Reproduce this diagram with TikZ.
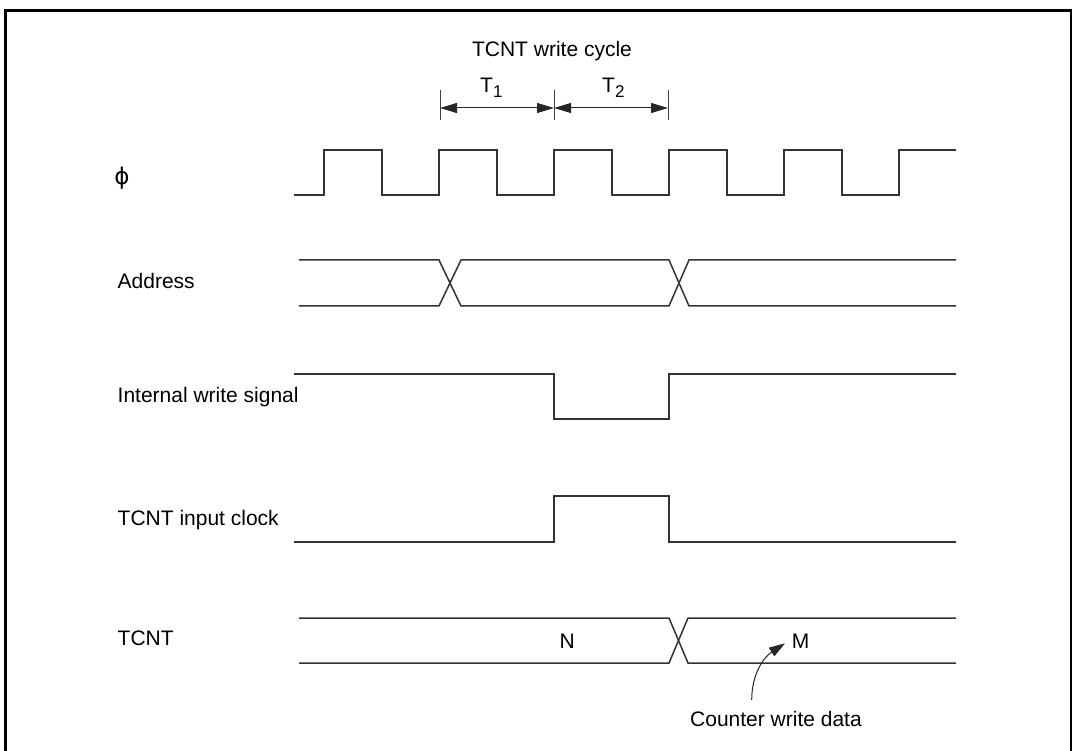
\documentclass[tikz,border=0pt]{standalone}
\usepackage{fontspec}
\setmainfont{Liberation Sans}
\newfontfamily\symfont{DejaVu Sans}
\usetikzlibrary{arrows.meta}
\begin{document}
\begin{tikzpicture}[x=1pt,y=-1pt,
  wave/.style={line width=1.5pt, black!80, line join=miter},
  lbl/.style={inner sep=0pt, font=\fontsize{21}{25}\selectfont, anchor=base west},
  tick/.style={line width=1pt, black!75},
  dimarrow/.style={line width=1pt, black!85, {Triangle[length=17pt,width=10pt]}-{Triangle[length=17pt,width=10pt]}},
  callout/.style={line width=1pt, black!85, -{Triangle[length=16pt,width=10pt]}},
  frame/.style={line width=2.7pt, black, line join=miter}]
\useasboundingbox (0,0) rectangle (1074,751);
% frame
\draw[frame] (5.3,751) -- (5.3,10.3) -- (1071,10.3) -- (1071,751);
% title and dimension arrows
\node[lbl, anchor=base] (title) at (552,57) {TCNT write cycle};
\node[lbl] (T1) at (480,93) {T\raisebox{-5pt}{\fontsize{17}{17}\selectfont 1}};
\node[lbl] (T2) at (602,93) {T\raisebox{-5pt}{\fontsize{17}{17}\selectfont 2}};
\coordinate (ka) at (440,108);
\coordinate (kb) at (554,108);
\coordinate (kc) at (668,108);
\draw[tick] (440,90) -- (440,120);
\draw[tick] (554,90) -- (554,120);
\draw[tick] (668,90) -- (668,120);
\draw[dimarrow] (ka) -- (kb);
\draw[dimarrow] (kb) -- (kc);
% signal labels
\node[inner sep=0pt, font=\symfont\fontsize{23}{25}\selectfont] (lphi) at (122,178) {ϕ};
\node[lbl] (laddr) at (117.5,289) {Address};
\node[lbl] (liws) at (117.5,402.6) {Internal write signal};
\node[lbl] (lclk) at (117.5,525) {TCNT input clock};
\node[lbl] (ltcnt) at (117.5,645.6) {TCNT};
% phi clock
\draw[wave] (294,195) foreach \r in {324,439,554,669,784} { -- (\r,195) -- (\r,150) -- (\r+58,150) -- (\r+58,195) } -- (899,195) -- (899,150) -- (956,150);
% address
\draw[wave] (299,260) -- (439,260) -- (461,306) -- (669,306) -- (689,260) -- (956,260);
\draw[wave] (299,306) -- (439,306) -- (461,260) -- (669,260) -- (689,306) -- (956,306);
% internal write signal
\draw[wave] (294,374) -- (554,374) -- (554,419) -- (669,419) -- (669,374) -- (956,374);
% TCNT input clock
\draw[wave] (294,542) -- (554,542) -- (554,496) -- (669,496) -- (669,542) -- (956,542);
% TCNT
\draw[wave] (299,618) -- (669,618) -- (688,663) -- (956,663);
\draw[wave] (299,663) -- (669,663) -- (688,618) -- (956,618);
\node[lbl] (N) at (559.5,648) {N};
\node[lbl] (M) at (791.7,648) {M};
\node[lbl] (cwd) at (690,726) {Counter write data};
\coordinate (cstart) at (751.7,700);
\coordinate (mtip) at (785,643.3);
\draw[callout] (cstart) to[out=90,in=213] (mtip);
\end{tikzpicture}
\end{document}
